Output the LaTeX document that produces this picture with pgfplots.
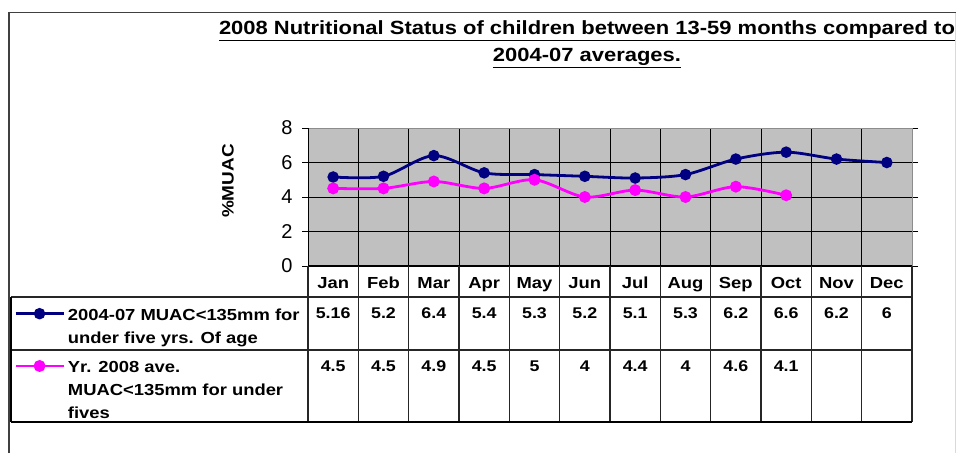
\documentclass[border=0pt]{standalone}
\usepackage{pgfplots}
\pgfplotsset{compat=1.18}
\usepackage{pgfplotstable}
\usepackage{fontspec}
\setmainfont{Liberation Sans}
\newfontfamily\wide{Liberation Sans}[FakeStretch=1.15]
\definecolor{navyc}{RGB}{0,0,128}
\definecolor{magc}{RGB}{255,0,255}
\definecolor{plotgray}{RGB}{192,192,192}

\pgfplotstableread{
x v
0 5.16
1 5.2
2 6.4
3 5.4
4 5.3
5 5.2
6 5.1
7 5.3
8 6.2
9 6.6
10 6.2
11 6
}\avgtab
\pgfplotstableread{
x v
0 4.5
1 4.5
2 4.9
3 4.5
4 5
5 4
6 4.4
7 4
8 4.6
9 4.1
}\yrtab

\begin{document}
\begin{tikzpicture}[x=1pt,y=1pt]
\useasboundingbox (0,0) rectangle (956,453);
\draw[black!75, line width=1.2pt] (9,0) -- (9,440.5) -- (956,440.5);
\draw[black!15, line width=1pt] (955.5,0) -- (955.5,440);
\node[anchor=base, inner sep=0pt, font=\wide\bfseries\fontsize{19.1}{22}\selectfont] at (587,418) {\underline{2008 Nutritional Status of children between 13-59 months compared to}};
\node[anchor=base, inner sep=0pt, font=\wide\bfseries\fontsize{19.1}{22}\selectfont] at (587,391) {\underline{2004-07 averages.}};
\node[rotate=90, inner sep=0pt, font=\wide\bfseries\fontsize{16.5}{18}\selectfont] at (228,272) {\%MUAC};

\begin{axis}[
  at={(308pt,187pt)}, anchor=south west,
  scale only axis, width=604pt, height=138pt,
  xmin=-0.5, xmax=11.5, ymin=0, ymax=8,
  clip=false,
  axis background/.style={fill=plotgray},
  axis line style={draw=black!45, line width=1pt},
  xtick={0,...,11},
  xticklabels={Jan,Feb,Mar,Apr,May,Jun,Jul,Aug,Sep,Oct,Nov,Dec},
  major x tick style={draw=none},
  xticklabel style={anchor=base, yshift=-16pt, font=\wide\bfseries\fontsize{16}{18}\selectfont},
  ytick={0,2,4,6,8},
  ymajorgrids, major grid style={black, line width=0.8pt},
  minor xtick={0.5,1.5,...,10.5}, xminorgrids, minor grid style={black, line width=0.8pt},
  minor tick length=0pt,
  tick align=outside, major tick length=6pt,
  ytick style={black, line width=0.8pt},
  yticklabel style={font=\fontsize{20}{20}\selectfont, xshift=-6pt},
  /pgf/number format/assume math mode=true,
  legend style={at={(axis description cs:-0.4868,-0.297)}, anchor=north west,
    draw=none, fill=none, inner sep=0pt, row sep=12pt, column sep=1pt,
    cells={anchor=north west, align=left, inner sep=0pt},
    font=\wide\bfseries\fontsize{16}{23}\selectfont},
  legend image code/.code={\draw[#1, mark repeat=2, mark phase=2] plot coordinates {(0pt,-6.5pt) (24pt,-6.5pt) (48pt,-6.5pt)};},
]
\addplot[navyc, line width=2.8pt, smooth, mark=*, mark size=4.3pt, mark options={solid}] table[x=x,y=v]{\avgtab};
\addlegendentry{2004-07 MUAC<135mm for\\under five yrs. Of age}
\addplot[magc, line width=2.8pt, smooth, mark=*, mark size=4.5pt, mark options={solid}] table[x=x,y=v]{\yrtab};
\addlegendentry{Yr. 2008 ave.\\MUAC<135mm for under\\fives}
\addplot[forget plot, draw=none, mark=none, nodes near coords, point meta=explicit symbolic,
  every node near coord/.append style={anchor=center, font=\wide\bfseries\fontsize{15.5}{18}\selectfont, text=black}]
  table[x=x, y expr=-2.725, meta=v]{\avgtab};
\addplot[forget plot, draw=none, mark=none, nodes near coords, point meta=explicit symbolic,
  every node near coord/.append style={anchor=center, font=\wide\bfseries\fontsize{15.5}{18}\selectfont, text=black}]
  table[x=x, y expr=-5.797, meta=v]{\yrtab};
\end{axis}
\draw[black, line width=1pt] (308,187) -- (308,325);
\draw[black, line width=1.6pt] (308,187) -- (912,187);
\foreach \k in {0,...,12} \draw[black!85, line width=1.1pt] ({308+604/12*\k},31) -- ({308+604/12*\k},187);
\draw[black!85, line width=1.1pt] (11,156) -- (912,156);
\draw[black!85, line width=1.1pt] (11,103) -- (912,103);
\draw[black, line width=1.3pt] (11,31) -- (912,31);
\draw[black, line width=1.3pt] (11,31) -- (11,156);
\end{tikzpicture}
\end{document}
